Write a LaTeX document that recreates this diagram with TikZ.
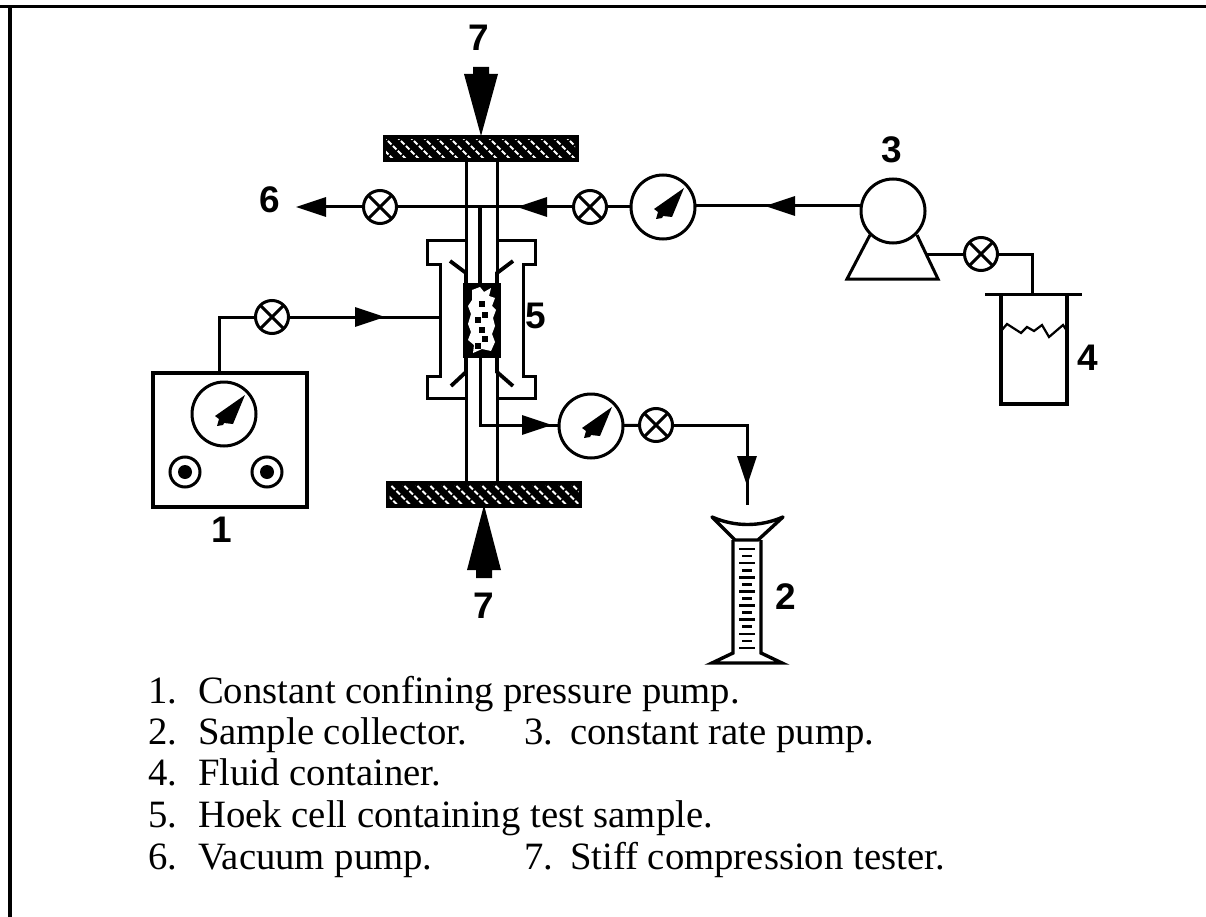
\documentclass[tikz,border=0pt]{standalone}
\usepackage{fontspec}
\setmainfont{Liberation Serif}
\setsansfont{Liberation Sans}
\usetikzlibrary{arrows.meta}
\tikzset{
  ln/.style={line width=3pt,black},
  thick line/.style={line width=3.4pt,black},
  flow/.style={line width=3pt,black,-{Triangle[length=30pt,width=19pt]}},
  valve/.style={circle,draw=black,line width=3pt,minimum size=33pt,inner sep=0pt,outer sep=0pt,
    path picture={\draw[line width=3pt] (path picture bounding box.south west) -- (path picture bounding box.north east)
      (path picture bounding box.north west) -- (path picture bounding box.south east);}},
  gauge/.style={circle,draw=black,line width=3pt,minimum size=64pt,inner sep=0pt,outer sep=0pt,
    path picture={\fill[black,shift={(path picture bounding box.center)}]
      (21,-19) -- (-9,2) -- (-5,5) -- (-7,12) -- (-1,11) -- (0,9) -- (9,10) -- cycle;}},
  knob/.style={circle,draw=black,line width=3pt,minimum size=30pt,inner sep=0pt,
    path picture={\fill[black] (path picture bounding box.center) circle (7);}},
  pumpc/.style={circle,draw=black,line width=3pt,minimum size=64pt,inner sep=0pt,outer sep=0pt},
  lab/.style={inner sep=0pt,font=\sffamily\bfseries\fontsize{37}{40}\selectfont},
  legend/.style={anchor=base west,inner sep=0pt,font=\fontsize{38.7}{42}\selectfont},
  plate/.style={draw=black,fill=black,line width=1pt,minimum width=195pt,minimum height=26pt,inner sep=0pt,outer sep=0pt}
}
\newcommand{\hatchplate}[1]{%
  \begin{scope}
    \clip ([shift={(3,4)}]#1.north west) rectangle ([shift={(-3,-4)}]#1.south east);
    \foreach \d in {-26,-13,...,200}
      \draw[white,line width=1.8pt,dash pattern=on 5pt off 2pt]
        ([xshift=\d pt]#1.north west) -- ++(26,26);
  \end{scope}}
\begin{document}
\begin{tikzpicture}[x=1pt,y=-1pt]
\useasboundingbox (0,0) rectangle (1206,917);
\fill[white] (0,0) rectangle (1206,917);
% frame
\draw[line width=3pt] (0,7) -- (1206,7);
\draw[line width=3.6pt] (10,7) -- (10,917);

% plates
\node[plate] (ptop) at (480.5,149) {};
\node[plate] (pbot) at (484,494) {};
\hatchplate{ptop}
\hatchplate{pbot}

% load arrows
\fill[black] (473,67) -- (489,67) -- (489,74) -- (498,74) -- (481,136) -- (464,74) -- (473,74) -- cycle;
\fill[black] (476,578) -- (492,578) -- (492,570) -- (501,570) -- (484,505) -- (467,570) -- (476,570) -- cycle;

% column
\coordinate (cla) at (466,162); \coordinate (clb) at (466,283);
\coordinate (cra) at (497,162); \coordinate (crb) at (497,283);
\coordinate (dla) at (466,358); \coordinate (dlb) at (466,481);
\coordinate (dra) at (497,358); \coordinate (drb) at (497,481);
\draw[ln] (cla) -- (clb) (cra) -- (crb) (dla) -- (dlb) (dra) -- (drb);

% Hoek cell body
\draw[ln] (466,241) -- (427,241) -- (427,264) -- (440,264) -- (440,376) -- (427,376) -- (427,398) -- (466,398);
\draw[ln] (497,241) -- (535,241) -- (535,264) -- (523,264) -- (523,376) -- (535,376) -- (535,398) -- (497,398);
\draw[line width=3.8pt,black] (450,261) -- (466,273) -- (466,283) (513,261) -- (497,273) -- (497,283)
  (451,386) -- (466,372) -- (466,358) (513,386) -- (497,372) -- (497,358);

% sample
\fill[black] (463,283) rectangle (501,358);
\fill[white] (472,290) -- (480,287) -- (484,292) -- (491,288) -- (489,296) -- (495,298) -- (492,306) -- (496,310)
  -- (493,318) -- (495,326) -- (492,334) -- (495,342) -- (491,351) -- (482,349) -- (473,353) -- (474,345)
  -- (468,340) -- (471,332) -- (468,324) -- (471,314) -- (468,306) -- (472,300) -- cycle;
\foreach \p in {(482,304),(485,315),(478,320),(482,330),(485,339),(478,346)}
  \fill[black] \p ++(-2.8,-2.8) rectangle ++(5.6,5.6);

% inner pipe, top
\coordinate (itop) at (480,207);
\coordinate (ibot) at (480,283);
\draw[ln,line width=3.4pt] (itop) -- (ibot);

% top line
\node[valve] (v6) at (380,207) {};
\node[valve] (v3) at (590,207) {};
\node[gauge] (g3) at (663,207) {};
\node[pumpc] (p3) at (893,211) {};
\coordinate (end6) at (296,207);
\coordinate (t3) at (765,206);
\coordinate (t2) at (517,207);
\draw[flow] (v6) -- (end6);
\draw[ln] (v3) -- (v6);
\draw[flow] (v3) -- (t2);
\draw[ln] (g3) -- (v3);
\draw[ln] (p3.west |- t3) -- (t3 -| g3.east);
\draw[flow] (p3.west |- t3) -- (t3);

% pump 3
\coordinate (tl) at (870,235); \coordinate (tr) at (917,235);
\coordinate (bl) at (847,279); \coordinate (br) at (938,279);
\draw[ln,line join=miter] (tl) -- (bl) -- (br) -- (tr);
\node[valve] (v4) at (981,254) {};
\coordinate (pout) at (927,254);
\coordinate (ctop) at (1032,294);
\draw[ln] (pout) -- (v4);
\draw[ln] (v4) -| (ctop);

% container 4
\draw[ln] (985,294) -- (1082,294);
\draw[thick line] (1001,294) -- (1001,404) -- (1067,404) -- (1067,294);
\draw[line width=2.2pt] (1001,331) -- (1007,324) -- (1021,333) -- (1027,327) -- (1034,331) -- (1042,325) -- (1049,337) -- (1063,325) -- (1067,331);

% pump 1
\node[draw=black,line width=3.2pt,minimum width=154pt,minimum height=134pt,inner sep=0pt,outer sep=0pt] (p1) at (230,440) {};
\node[gauge] (g1) at (224,414) {};
\node[knob] (k1) at (185,472) {};
\node[knob] (k2) at (267,472) {};
\node[valve] (v1) at (272,317) {};
\coordinate (c1) at (385,317);
\coordinate (cellin) at (440,317);
\draw[ln] (v1) -| (p1.north -| 219,373);
\draw[ln] (v1) -- (cellin);
\draw[flow] (v1) -- (c1);

% outlet
\node[gauge] (g2) at (591,426) {};
\node[valve] (v2) at (656,425) {};
\coordinate (obot) at (480,358);
\coordinate (ocor) at (480,425);
\coordinate (oar) at (552,425);
\draw[ln] (obot) -- (ocor) -- (g2.west |- ocor);
\draw[flow] (ocor) -- (oar);
\draw[ln] (g2) -- (v2);
\coordinate (dtip) at (747,486);
\coordinate (dend) at (747,505);
\draw[ln] (v2) -| (dend);
\draw[flow] (v2) -| (dtip);

% collector 2
\draw[thick line,line join=round] (712,517) .. controls (735,527) and (760,527) .. (783,517) -- (758,540) -- (735,540) -- cycle;
\draw[thick line] (733,540) -- (733,653) -- (712,663) -- (782,663) -- (761,653) -- (761,540);
\foreach \i in {0,...,14}{
  \pgfmathsetmacro{\yy}{549+7.07*\i}
  \pgfmathsetmacro{\hw}{ifthenelse(mod(\i,2)==0,8,5)}
  \draw[line width=2.6pt] (747-\hw,\yy) -- (747+\hw,\yy);
}

% number labels
\node[lab] (n7a) at (479,38) {7};
\node[lab] (n7b) at (484,606) {7};
\node[lab] (n6) at (270,200) {6};
\node[lab] (n3) at (892,150) {3};
\node[lab] (n4) at (1088,358) {4};
\node[lab] (n5) at (536,316) {5};
\node[lab] (n1) at (222,530) {1};
\node[lab] (n2) at (786,597) {2};

% legend
\node[legend] (l1) at (148,703) {\makebox[50pt][l]{1.}Constant confining pressure pump.};
\node[legend] (l2) at (148,744) {\makebox[50pt][l]{2.}Sample collector.};
\node[legend] (l3) at (524,744) {\makebox[46pt][l]{3.}constant rate pump.};
\node[legend] (l4) at (148,785) {\makebox[50pt][l]{4.}Fluid container.};
\node[legend] (l5) at (148,827) {\makebox[50pt][l]{5.}Hoek cell containing test sample.};
\node[legend] (l6) at (148,869) {\makebox[50pt][l]{6.}Vacuum pump.};
\node[legend] (l7) at (524,869) {\makebox[46pt][l]{7.}Stiff compression tester.};
\end{tikzpicture}
\end{document}
